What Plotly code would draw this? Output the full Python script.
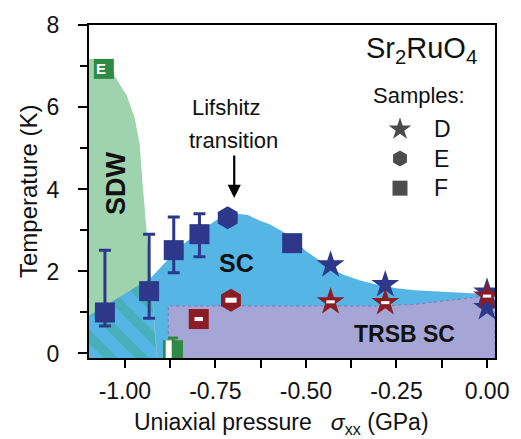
import plotly.graph_objects as go

# ---------------- data ----------------
# Sample F (squares): Tc onset with asymmetric error bars
f_x = [-1.055, -0.933, -0.865, -0.794, -0.538]
f_t = [1.00, 1.52, 2.52, 2.91, 2.69]
f_err_up = [1.52, 1.39, 0.81, 0.50, 0.0]
f_err_dn = [0.33, 0.66, 0.55, 0.55, 0.0]

# Sample E (hexagon)
e_x = [-0.716]
e_t = [3.31]

# Sample D (stars)
d_x = [-0.432, -0.281, 0.0, 0.0]
d_t = [2.16, 1.68, 1.50, 1.12]

# TRSB onset (red markers)
trsb_d_x = [-0.432, -0.281, 0.0]
trsb_d_t = [1.26, 1.24, 1.40]
trsb_e_x = [-0.707]
trsb_e_t = [1.30]
trsb_f_x = [-0.796]
trsb_f_t = [0.84]

# SDW points (green squares)
sdw_x = [-1.058, -0.867]
sdw_t = [6.94, 0.08]
sdw_err_up = [0.0, 0.30]

# Phase region boundaries
sdw_region_x = [-1.099, -1.099, -1.045, -1.035, -1.027, -0.995, -0.973, -0.959, -0.951, -0.935, -0.925, -0.913, -0.912]
sdw_region_t = [-0.11, 7.18, 7.18, 7.00, 6.74, 6.30, 5.75, 5.10, 4.14, 2.50, 1.50, 0.20, -0.11]

sc_region_x = [-1.099, -1.099, -0.929, -0.88, -0.834, -0.79, -0.745, -0.70, -0.66, -0.629, -0.60, -0.55, -0.50,
               -0.45, -0.40, -0.35, -0.30, -0.25, -0.20, -0.10, 0.0, 0.022, 0.022]
sc_region_t = [-0.11, 0.92, 1.84, 2.30, 2.70, 3.00, 3.27, 3.42, 3.38, 3.24, 3.15, 2.90, 2.50,
               2.19, 1.93, 1.78, 1.67, 1.59, 1.54, 1.49, 1.45, 1.44, -0.11]

overlap_x = [-1.099, -1.099, -0.929, -0.913, -0.912]
overlap_t = [-0.11, 0.92, 1.84, 0.20, -0.11]

trsb_region_x = [-0.88, -0.88, -0.30, -0.20, -0.10, 0.022, 0.022]
trsb_region_t = [-0.11, 1.16, 1.16, 1.20, 1.30, 1.42, -0.11]

x_tickvals = [-1.0, -0.75, -0.5, -0.25, 0.0]
x_ticktext = ["-1.00", "-0.75", "-0.50", "-0.25", "0.00"]
x_minor = [-1.0, -0.875, -0.75, -0.625, -0.5, -0.375, -0.25, -0.125, 0.0]
y_tickvals = [0, 2, 4, 6, 8]
y_minor = [1, 3, 5, 7]

legend_labels = ["D", "E", "F"]
legend_symbols = ["star", "hexagon", "square"]

# ---------------- style ----------------
FONT = "Liberation Sans, Arial, sans-serif"
NAVY = "#2d388a"
RED = "#8c1d24"
GREEN_M = "#2f8a45"
GREEN_R = "#9fd3ae"
BLUE_R = "#55b6e6"
TEAL = "#3aa88c"
PURPLE_R = "#a6a6d6"
TXT = "#111111"

fig = go.Figure()

# regions
fig.add_trace(go.Scatter(x=sc_region_x, y=sc_region_t, fill="toself", fillcolor=BLUE_R,
                         mode="lines", line=dict(width=0), hoverinfo="skip", showlegend=False))
fig.add_trace(go.Scatter(x=sdw_region_x, y=sdw_region_t, fill="toself", fillcolor=GREEN_R,
                         mode="lines", line=dict(width=0), hoverinfo="skip", showlegend=False))
fig.add_trace(go.Scatter(x=overlap_x, y=overlap_t, fill="toself", fillcolor=BLUE_R,
                         fillpattern=dict(shape="\\", bgcolor=BLUE_R, fgcolor=TEAL, size=22, solidity=0.45),
                         mode="lines", line=dict(width=0), hoverinfo="skip", showlegend=False))
fig.add_trace(go.Scatter(x=trsb_region_x, y=trsb_region_t, fill="toself", fillcolor=PURPLE_R,
                         mode="lines", line=dict(width=1.2, color="#8080bb", dash="dot"),
                         hoverinfo="skip", showlegend=False))

# SDW green squares
fig.add_trace(go.Scatter(x=sdw_x, y=sdw_t, mode="markers",
                         marker=dict(symbol="square", size=20, color=GREEN_M, line=dict(width=0)),
                         error_y=dict(type="data", symmetric=False, array=sdw_err_up,
                                      arrayminus=[0] * len(sdw_x), color=GREEN_M, thickness=3, width=5),
                         showlegend=False))
fig.add_trace(go.Scatter(x=[sdw_x[1] - 0.012], y=[sdw_t[1]], mode="markers",
                         marker=dict(symbol="line-ns", size=14, line=dict(width=6, color="white")),
                         showlegend=False))
fig.add_annotation(x=sdw_x[0], y=sdw_t[0], text="<b>E</b>", showarrow=False, xshift=-3,
                   xanchor="center", yanchor="middle",
                   font=dict(family=FONT, size=15, color="white"))

# Sample F squares with error bars
fig.add_trace(go.Scatter(x=f_x, y=f_t, mode="markers",
                         marker=dict(symbol="square", size=20, color=NAVY, line=dict(width=0)),
                         error_y=dict(type="data", symmetric=False, array=f_err_up, arrayminus=f_err_dn,
                                      color=NAVY, thickness=3, width=6),
                         showlegend=False))
# Sample E hexagon
fig.add_trace(go.Scatter(x=e_x, y=e_t, mode="markers",
                         marker=dict(symbol="hexagon", size=23, color=NAVY, line=dict(width=0)),
                         showlegend=False))
# Sample D stars
fig.add_trace(go.Scatter(x=d_x, y=d_t, mode="markers",
                         marker=dict(symbol="star", size=21, color=NAVY, line=dict(width=0)),
                         showlegend=False))

# TRSB red markers
fig.add_trace(go.Scatter(x=trsb_f_x, y=trsb_f_t, mode="markers",
                         marker=dict(symbol="square", size=20, color=RED, line=dict(width=0)),
                         showlegend=False))
fig.add_trace(go.Scatter(x=trsb_e_x, y=trsb_e_t, mode="markers",
                         marker=dict(symbol="hexagon", size=23, color=RED, line=dict(width=0)),
                         showlegend=False))
fig.add_trace(go.Scatter(x=trsb_d_x, y=trsb_d_t, mode="markers",
                         marker=dict(symbol="star", size=21, color=RED, line=dict(width=0)),
                         showlegend=False))
# white inner bars
for xs, ts, sz, w in [(trsb_f_x, trsb_f_t, 6, 4), (trsb_e_x, trsb_e_t, 8, 5), (trsb_d_x, trsb_d_t, 6, 3)]:
    fig.add_trace(go.Scatter(x=xs, y=ts, mode="markers",
                             marker=dict(symbol="line-ew", size=sz, line=dict(width=w, color="white")),
                             showlegend=False))

# legend markers on an overlay axis (paper-like coordinates)
fig.add_trace(go.Scatter(x=[0.766] * 3, y=[0.687, 0.599, 0.510], mode="markers", xaxis="x2", yaxis="y2",
                         marker=dict(symbol=legend_symbols, size=[17, 16, 15], color="black", line=dict(width=0)),
                         showlegend=False, hoverinfo="skip"))
for lab, yy in zip(legend_labels, [0.687, 0.599, 0.510]):
    fig.add_annotation(xref="paper", yref="paper", x=0.845, y=yy, text=lab, showarrow=False,
                       xanchor="left", yanchor="middle", font=dict(family=FONT, size=23, color=TXT))

fig.add_annotation(xref="paper", yref="paper", x=0.819, y=0.925,
                   text="Sr<sub>2</sub>RuO<sub>4</sub>", showarrow=False,
                   xanchor="center", yanchor="middle",
                   font=dict(family=FONT, size=29, color=TXT))
fig.add_annotation(xref="paper", yref="paper", x=0.814, y=0.787, text="Samples:", showarrow=False,
                   xanchor="center", yanchor="middle",
                   font=dict(family=FONT, size=22, color=TXT))

# region labels
fig.add_annotation(xref="paper", yref="paper", x=0.066, y=0.525, text="<b>SDW</b>", textangle=-90,
                   xanchor="center", yanchor="middle",
                   showarrow=False, font=dict(family=FONT, size=27, color=TXT))
fig.add_annotation(xref="paper", yref="paper", x=0.363, y=0.286, text="<b>SC</b>",
                   xanchor="center", yanchor="middle",
                   showarrow=False, font=dict(family=FONT, size=25, color=TXT))
fig.add_annotation(xref="paper", yref="paper", x=0.777, y=0.071, text="<b>TRSB SC</b>",
                   xanchor="center", yanchor="middle",
                   showarrow=False, font=dict(family=FONT, size=23, color=TXT))

# Lifshitz transition
fig.add_annotation(xref="paper", yref="paper", x=0.337, y=0.752, text="Lifshitz",
                   xanchor="center", yanchor="middle",
                   showarrow=False, font=dict(family=FONT, size=22, color=TXT))
fig.add_annotation(xref="paper", yref="paper", x=0.355, y=0.652, text="transition",
                   xanchor="center", yanchor="middle",
                   showarrow=False, font=dict(family=FONT, size=22, color=TXT))
fig.add_annotation(x=-0.698, y=3.79, text="", showarrow=True, ax=0, ay=-44,
                   arrowhead=2, arrowsize=1.2, arrowwidth=2.2, arrowcolor="black")

# axis titles
fig.add_annotation(xref="paper", yref="paper", x=-0.149, y=0.5, text="Temperature (K)", textangle=-90,
                   xanchor="center", yanchor="middle",
                   showarrow=False, font=dict(family=FONT, size=24, color=TXT))
fig.add_annotation(xref="paper", yref="paper", x=0.475, y=-0.197,
                   text="Uniaxial pressure   <i>σ</i><sub>xx</sub> (GPa)",
                   xanchor="center", yanchor="middle",
                   showarrow=False, font=dict(family=FONT, size=23, color=TXT))

fig.update_layout(
    width=521, height=439,
    margin=dict(l=89, r=24, t=19, b=81),
    plot_bgcolor="white", paper_bgcolor="white",
    showlegend=False,
    xaxis=dict(range=[-1.099, 0.022], tickmode="array", tickvals=x_tickvals, ticktext=x_ticktext,
               ticks="outside", ticklen=8, tickwidth=2, tickcolor="black",
               showline=True, linewidth=2, linecolor="black", mirror=True,
               showgrid=False, zeroline=False, ticklabelstandoff=3,
               tickfont=dict(family=FONT, size=23, color=TXT),
               minor=dict(tickmode="array", tickvals=x_minor, ticks="outside", ticklen=8,
                          tickwidth=2, tickcolor="black", showgrid=False)),
    yaxis=dict(range=[-0.11, 8.01], tickmode="array", tickvals=y_tickvals,
               ticks="outside", ticklen=9, tickwidth=2, tickcolor="black",
               showline=True, linewidth=2, linecolor="black", mirror=True,
               showgrid=False, zeroline=False, ticklabelstandoff=14,
               tickfont=dict(family=FONT, size=23, color=TXT),
               minor=dict(tickmode="array", tickvals=y_minor, ticks="outside", ticklen=7,
                          tickwidth=2, tickcolor="black", showgrid=False)),
    xaxis2=dict(overlaying="x", range=[0, 1], visible=False),
    yaxis2=dict(overlaying="y", range=[0, 1], visible=False),
)

fig.write_html("out.html")
